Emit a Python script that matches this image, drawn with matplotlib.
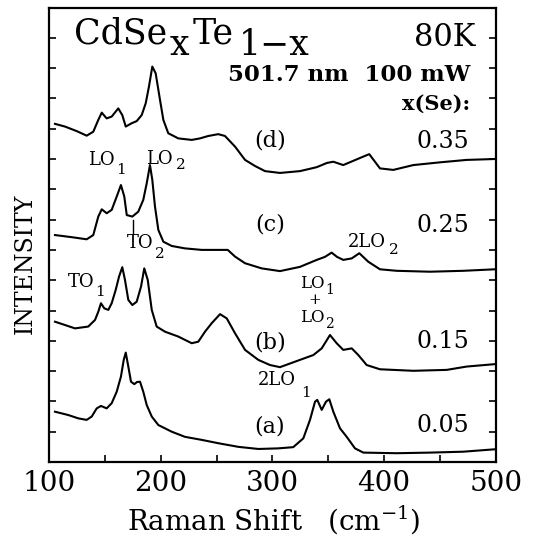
import matplotlib
matplotlib.use('Agg')
import matplotlib.pyplot as plt
from matplotlib.ticker import MultipleLocator, NullFormatter

# spectra: Raman shift (cm-1) and stacked intensity (arb. units)
shift_a = [105.1, 117.0, 126.0, 133.5, 138.0, 142.5, 146.3, 151.4, 155.9, 160.4,
           164.2, 166.7, 168.5, 170.8, 173.2, 176.2, 178.6, 181.3, 184.2, 187.3,
           191.8, 197.7, 209.7, 221.6, 236.6, 251.4, 269.4, 287.3, 305.2, 318.6,
           327.6, 333.6, 338.1, 340.1, 344.1, 347.9, 350.9, 354.5, 360.5, 366.5,
           373.9, 381.4, 411.3, 441.1, 470.9, 499.4]
int_a = [1.66, 1.55, 1.44, 1.39, 1.50, 1.77, 1.85, 1.77, 1.94, 2.32,
         2.82, 3.37, 3.61, 3.15, 2.65, 2.57, 2.64, 2.65, 2.32, 1.88,
         1.50, 1.22, 1.00, 0.83, 0.73, 0.62, 0.50, 0.43, 0.45, 0.49,
         0.78, 1.39, 1.99, 2.05, 1.72, 1.99, 2.07, 1.66, 1.11, 0.83,
         0.45, 0.31, 0.29, 0.31, 0.34, 0.42]

shift_b = [105.1, 114.1, 123.0, 134.9, 141.0, 143.9, 146.3, 149.3, 152.9, 155.9,
           159.5, 162.5, 165.4, 167.8, 170.8, 174.4, 178.3, 182.2, 185.1, 188.2,
           191.8, 196.2, 203.7, 215.6, 227.6, 233.5, 239.5, 245.5, 253.0, 259.0,
           266.4, 275.4, 287.3, 297.8, 306.7, 324.6, 336.6, 344.1, 351.5, 357.5,
           363.4, 371.0, 376.9, 384.4, 396.3, 426.2, 456.1, 474.0, 499.4]
int_b = [4.63, 4.52, 4.41, 4.47, 4.69, 4.96, 5.24, 5.07, 5.02, 5.24,
         5.68, 6.12, 6.43, 6.01, 5.35, 5.18, 5.29, 5.79, 6.39, 6.01,
         5.02, 4.47, 4.30, 4.14, 3.92, 3.97, 4.30, 4.58, 4.88, 4.74,
         4.25, 3.70, 3.37, 3.20, 3.13, 3.37, 3.53, 3.75, 4.19, 3.92,
         3.70, 3.75, 3.53, 3.20, 3.06, 3.01, 3.04, 3.15, 3.23]

shift_c = [105.1, 120.1, 133.5, 139.4, 143.9, 147.0, 151.4, 155.9, 160.4, 164.2,
           167.2, 169.4, 174.4, 179.7, 184.2, 187.3, 190.2, 192.3, 194.7, 197.7,
           202.2, 209.7, 221.6, 236.6, 251.4, 259.9, 266.4, 275.4, 290.3, 306.7,
           324.6, 339.6, 347.0, 353.0, 357.8, 363.4, 371.0, 377.8, 385.8, 396.3,
           411.3, 441.1, 470.9, 499.4]
int_c = [7.49, 7.42, 7.35, 7.49, 8.10, 8.34, 8.21, 8.32, 8.76, 9.14,
         8.76, 8.15, 8.10, 8.26, 8.65, 9.20, 9.80, 9.31, 8.43, 7.66,
         7.27, 7.13, 7.05, 7.00, 7.00, 7.00, 6.78, 6.56, 6.39, 6.30,
         6.44, 6.67, 6.77, 6.91, 6.77, 6.67, 6.72, 6.89, 6.61, 6.36,
         6.31, 6.28, 6.31, 6.36]

shift_d = [105.1, 114.1, 124.6, 133.5, 139.4, 143.9, 147.0, 151.4, 155.9, 161.8,
           165.4, 168.5, 173.8, 178.3, 182.8, 186.4, 189.3, 192.3, 195.3, 199.2,
           202.2, 206.6, 215.6, 227.6, 235.0, 242.5, 251.4, 257.4, 266.4, 275.4,
           284.3, 293.3, 306.7, 324.6, 339.6, 348.8, 354.5, 363.4, 372.4, 381.4,
           386.7, 391.8, 396.3, 408.2, 426.2, 450.1, 474.0, 499.4]
int_d = [11.16, 11.07, 10.92, 10.77, 10.90, 11.29, 11.53, 11.34, 11.40, 11.67,
         11.45, 11.07, 11.18, 11.25, 11.45, 11.84, 12.39, 13.05, 12.83, 11.95,
         11.29, 10.85, 10.68, 10.63, 10.68, 10.76, 10.82, 10.76, 10.41, 9.97,
         9.77, 9.60, 9.54, 9.60, 9.73, 9.87, 9.91, 9.80, 9.94, 10.08,
         10.16, 9.91, 9.69, 9.64, 9.80, 9.89, 9.97, 10.00]

curve_names = ['(a)', '(b)', '(c)', '(d)']
x_se = ['0.05', '0.15', '0.25', '0.35']
xticks = [100, 200, 300, 400, 500]

plt.rcParams['font.family'] = 'DejaVu Serif'
plt.rcParams['mathtext.fontset'] = 'dejavuserif'

W, H = 536, 538
fig = plt.figure(figsize=(W / 100, H / 100), dpi=100)
ax = fig.add_axes([49.3 / W, 1 - 462 / H, (495.7 - 49.3) / W, (462 - 7.5) / H])


def at(px, py):
    # pixel position in the picture -> data coordinates
    return 100 + (px - 49.3) / 1.116, (462 - py) / 30.3


for xs, ys in [(shift_a, int_a), (shift_b, int_b), (shift_c, int_c), (shift_d, int_d)]:
    ax.plot(xs, ys, color='black', lw=1.5)

ax.set_xlim(100, 500)
ax.set_ylim(0, 15)
ax.set_xticks(xticks)
ax.xaxis.set_minor_locator(MultipleLocator(50))
ax.yaxis.set_major_locator(MultipleLocator(1))
ax.yaxis.set_major_formatter(NullFormatter())
ax.tick_params(axis='both', which='both', direction='in', length=5, width=1.2)
ax.tick_params(axis='y', right=True)
ax.tick_params(axis='x', labelsize=20, pad=6)
for s in ax.spines.values():
    s.set_linewidth(1.6)

ax.set_xlabel('Raman Shift   (cm$^{-1}$)', fontsize=20)
ax.xaxis.set_label_coords(0.503, (462 - 520) / 454.5)
ax.xaxis.label.set_va('center')
ax.set_ylabel('INTENSITY', fontsize=17)
ax.yaxis.set_label_coords((25 - 49.3) / 446.4, (462 - 264) / 454.5)
ax.yaxis.label.set_va('center')

# title pieces, subscripts lowered but kept at full size
t1 = ax.text(*at(74, 44), 'CdSe', fontsize=25, ha='left', va='baseline')
t2 = ax.annotate('x', xy=(1, 0), xycoords=t1, xytext=(2, -8), textcoords='offset points',
                 fontsize=25, ha='left', va='bottom')
t3 = ax.annotate('Te', xy=(1, 0), xycoords=t2, xytext=(2, 8), textcoords='offset points',
                 fontsize=25, ha='left', va='bottom')
ax.annotate('1\u2212x', xy=(1, 0), xycoords=t3, xytext=(4, -8), textcoords='offset points',
            fontsize=25, ha='left', va='bottom')
ax.text(*at(476, 38), '80K', fontsize=22, ha='right', va='center')
ax.text(*at(470, 75), '501.7 nm  100 mW', fontsize=16.5, fontweight='bold', ha='right', va='center')
ax.text(*at(470, 104), 'x(Se):', fontsize=15, fontweight='bold', ha='right', va='center')

for name, xv, py in zip(curve_names, x_se, [426, 342, 225, 141]):
    ax.text(*at(270, py), name, fontsize=16, ha='center', va='center')
    ax.text(*at(443, py), xv, fontsize=17, ha='center', va='center')

# peak labels
ax.text(*at(101, 160), 'LO', fontsize=13, ha='center', va='center')
ax.text(*at(121, 170), '1', fontsize=11, ha='center', va='center')
ax.text(*at(159, 159), 'LO', fontsize=13, ha='center', va='center')
ax.text(*at(181, 165), '2', fontsize=11, ha='center', va='center')
ax.plot(*zip(at(133.3, 220), at(133.3, 233)), color='black', lw=1)
ax.text(*at(140, 243), 'TO', fontsize=13, ha='center', va='center')
ax.text(*at(160, 254), '2', fontsize=11, ha='center', va='center')
ax.text(*at(81, 282), 'TO', fontsize=13, ha='center', va='center')
ax.text(*at(100, 292), '1', fontsize=11, ha='center', va='center')
ax.text(*at(367, 242), '2LO', fontsize=13, ha='center', va='center')
ax.text(*at(394, 250), '2', fontsize=11, ha='center', va='center')
ax.text(*at(312, 283), 'LO', fontsize=12, ha='center', va='center')
ax.text(*at(330, 290), '1', fontsize=10, ha='center', va='center')
ax.text(*at(315, 300), '+', fontsize=11, ha='center', va='center')
ax.text(*at(312, 317), 'LO', fontsize=12, ha='center', va='center')
ax.text(*at(329, 324), '2', fontsize=10, ha='center', va='center')
ax.text(*at(277, 380), '2LO', fontsize=13, ha='center', va='center')
ax.text(*at(306, 393), '1', fontsize=11, ha='center', va='center')

fig.savefig('out.png', dpi=100)
